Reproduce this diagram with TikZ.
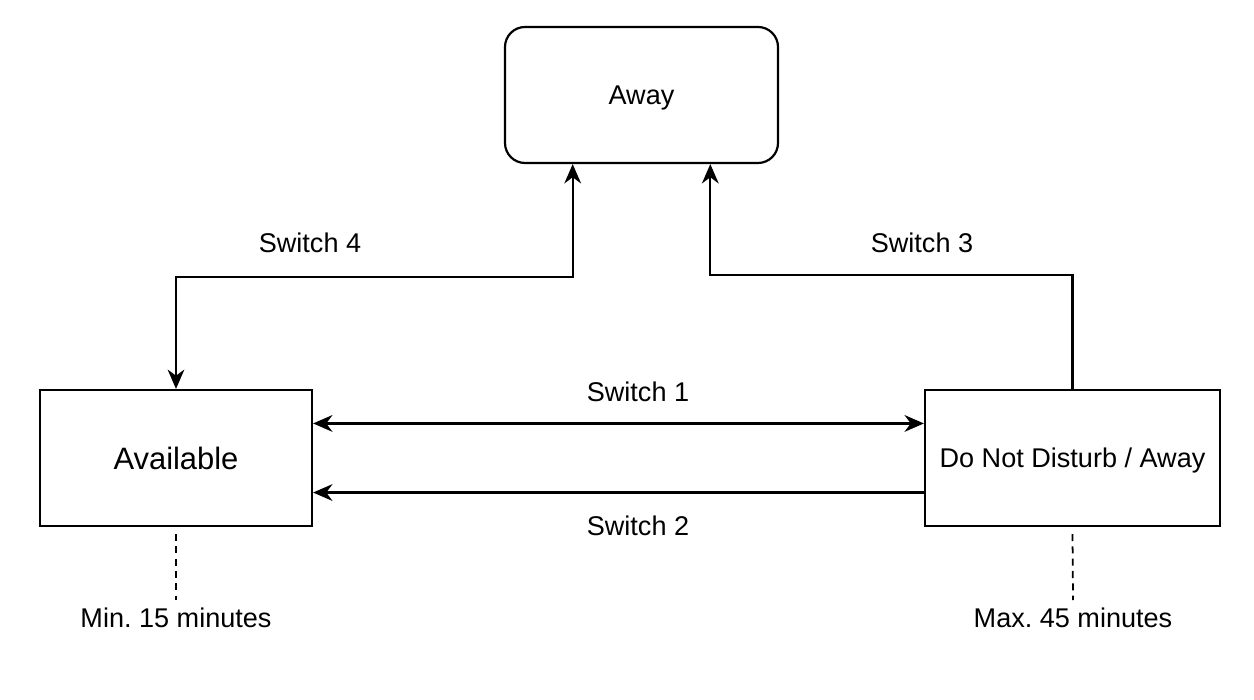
\documentclass[tikz,border=0pt]{standalone}
\usepackage{fontspec}
\setmainfont{Liberation Sans}
\usetikzlibrary{arrows.meta, calc}

\begin{document}
\frenchspacing
\begin{tikzpicture}[>={Stealth[length=11pt, width=9.5pt, inset=3.5pt]}, line width=1.25pt,
        state/.style={draw, minimum height=2.72cm, inner sep=0pt, text depth=0pt, font=\fontsize{15.4}{18}\selectfont},
        lbl/.style={font=\fontsize{15.4}{18}\selectfont}]
            \useasboundingbox (0, 0) rectangle (25.08, 14);
            \node[state, rounded corners=0.4cm, minimum width=5.46cm] (aw) at (12.83, 12.1) {Away};
            \node[state, minimum width=5.44cm, font=\fontsize{17.6}{20}\selectfont] (av) at (3.52, 4.84) {Available};
            \node[state, minimum width=5.9cm] (dnd) at (21.45, 4.84) {Do Not Disturb / Away};
            \coordinate (aw4) at ($(aw.south west)!0.25!(aw.south east)$);
            \coordinate (aw3) at ($(aw.south west)!0.75!(aw.south east)$);
            \draw[<->] (aw4) -- ++(0, -2.26) -| (av.north);
            \draw[->] (dnd.north) -- ++(0, 2.28) -| (aw3);
            \draw[<->] ($(av.north east)!0.25!(av.south east)$) -- ($(dnd.north west)!0.25!(dnd.south west)$);
            \draw[->] ($(dnd.north west)!0.75!(dnd.south west)$) -- ($(av.north east)!0.75!(av.south east)$);
            \node[lbl] (s4) at (6.2, 9.14) {Switch 4};
            \node[lbl] (s3) at (18.44, 9.14) {Switch 3};
            \node[lbl] (s1) at (12.76, 6.16) {Switch 1};
            \node[lbl] (s2) at (12.76, 3.48) {Switch 2};
            \node[lbl] (avmin) at (3.52, 1.64) {Min. 15 minutes};
            \node[lbl] (dndmax) at (21.46, 1.64) {Max. 45 minutes};
            \draw[dash pattern=on 4pt off 3pt, line width=1pt] ([yshift=-0.14cm]av.south) -- ([yshift=0.02cm]avmin.north);
            \draw[dash pattern=on 4pt off 3pt, line width=1pt] ([yshift=-0.14cm]dnd.south) -- ([yshift=0.02cm]dndmax.north);
        \end{tikzpicture}
\end{document}
